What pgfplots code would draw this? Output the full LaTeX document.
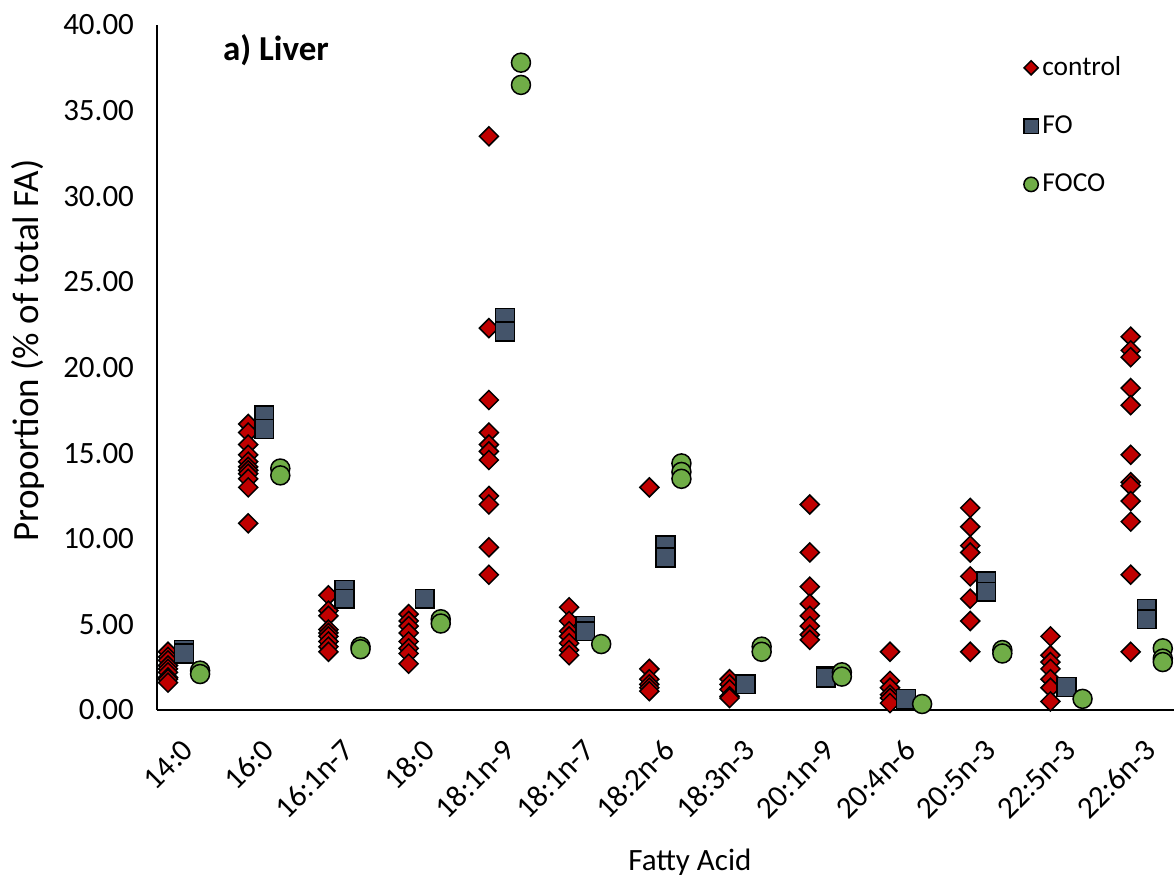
\documentclass[border=0pt]{standalone}
\usepackage{fontspec}
\setmainfont{Carlito}
\usepackage{pgfplots}
\pgfplotsset{compat=1.18}
\definecolor{ctrl}{HTML}{C00000}
\definecolor{fo}{HTML}{44546A}
\definecolor{foco}{HTML}{70AD47}

\begin{document}
\begin{tikzpicture}
\begin{axis}[scale only axis,width=508.5pt,height=342.5pt,
 xmin=0.663,xmax=13.34,ymin=0,ymax=40,clip=false,
 axis x line*=bottom,axis y line*=left,axis line style={line width=1.4pt,-},
 major tick length=0pt,
 xtick={1,...,13},
 xticklabels={14:0,16:0,16:1n-7,18:0,18:1n-9,18:1n-7,18:2n-6,18:3n-3,20:1n-9,20:4n-6,20:5n-3,22:5n-3,22:6n-3},
 ytick={0,5,...,40},
 tick label style={font=\fontsize{15.5}{18}\selectfont},
 xticklabel style={xshift=4.5pt,yshift=-15pt,rotate=45,anchor=east},
 yticklabel style={xshift=-8pt,/pgf/number format/fixed,/pgf/number format/fixed zerofill,
   /pgf/number format/precision=2,/pgf/number format/assume math mode=true},
 ylabel={Proportion (\% of total FA)},
 ylabel style={at={(axis description cs:-0.127,0.525)},anchor=center,font=\fontsize{18.5}{21}\selectfont},
 xlabel={Fatty Acid},
 xlabel style={at={(axis description cs:0.524,-0.222)},anchor=center,font=\fontsize{15.5}{18}\selectfont},
 legend image code/.code={\draw[mark repeat=2,mark phase=2,#1] plot coordinates {(0cm,0cm) (0.2cm,0cm) (0.4cm,0cm)};},
 legend style={at={(axis description cs:0.852,0.96)},anchor=north west,draw=none,fill=none,
   font=\fontsize{13.7}{15}\selectfont,row sep=14.6pt,inner sep=0pt},
 legend cell align=left,
]
% control
\addplot[only marks,mark=square*,mark size=3.36pt,
  mark options={rotate=45,fill=ctrl,draw=black,line width=0.75pt},
  legend image post style={mark size=2.5pt}] coordinates {
 (0.8,3.4) (0.8,3.1) (0.8,2.9) (0.8,2.6) (0.8,2.4) (0.8,2.2) (0.8,1.9) (0.8,1.8) (0.8,1.6)
 (1.8,16.7) (1.8,16.2) (1.8,15.5) (1.8,14.9) (1.8,14.5) (1.8,14.2) (1.8,14.0) (1.8,13.8) (1.8,13.5) (1.8,13.0) (1.8,10.9)
 (2.8,6.7) (2.8,5.8) (2.8,5.5) (2.8,4.7) (2.8,4.5) (2.8,4.3) (2.8,4.0) (2.8,3.7) (2.8,3.4)
 (3.8,5.6) (3.8,5.2) (3.8,4.9) (3.8,4.5) (3.8,4.0) (3.8,3.6) (3.8,3.3) (3.8,2.7)
 (4.8,33.5) (4.8,22.3) (4.8,18.1) (4.8,16.2) (4.8,15.5) (4.8,15.1) (4.8,14.6) (4.8,12.5) (4.8,12.0) (4.8,9.5) (4.8,7.9)
 (5.8,6.0) (5.8,5.2) (5.8,4.6) (5.8,4.3) (5.8,3.9) (5.8,3.5) (5.8,3.2)
 (6.8,13.0) (6.8,2.4) (6.8,1.8) (6.8,1.5) (6.8,1.3) (6.8,1.1)
 (7.8,1.8) (7.8,1.5) (7.8,1.2) (7.8,0.8) (7.8,0.7)
 (8.8,12.0) (8.8,9.2) (8.8,7.2) (8.8,6.2) (8.8,5.5) (8.8,4.9) (8.8,4.4) (8.8,4.1)
 (9.8,3.4) (9.8,1.7) (9.8,1.3) (9.8,0.9) (9.8,0.7) (9.8,0.4)
 (10.8,11.8) (10.8,10.7) (10.8,9.6) (10.8,9.2) (10.8,7.8) (10.8,6.5) (10.8,5.2) (10.8,3.4)
 (11.8,4.3) (11.8,3.2) (11.8,2.8) (11.8,2.4) (11.8,1.8) (11.8,1.3) (11.8,0.5)
 (12.8,21.8) (12.8,21.0) (12.8,20.6) (12.8,18.8) (12.8,17.8) (12.8,14.9) (12.8,13.3) (12.8,13.1) (12.8,12.2) (12.8,11.0) (12.8,7.9) (12.8,3.4)
};
\addlegendentry{control}
% FO
\addplot[only marks,mark=square*,mark size=4.7pt,
  mark options={fill=fo,draw=black,line width=0.75pt},
  legend image post style={mark size=3.6pt}] coordinates {
 (1,3.5) (1,3.3) (2,17.2) (2,16.4) (3,7.0) (3,6.5) (4,6.5) (5,22.9) (5,22.1)
 (6,4.9) (6,4.6) (7,9.6) (7,8.9) (8,1.5) (9,2.0) (9,1.9) (10,0.65)
 (11,7.5) (11,6.9) (12,1.35) (13,5.9) (13,5.3)
};
\addlegendentry{FO}
% FOCO
\addplot[only marks,mark=*,mark size=4.75pt,
  mark options={fill=foco,draw=black,line width=0.75pt},
  legend image post style={mark size=3.6pt}] coordinates {
 (1.2,2.3) (1.2,2.1) (2.2,14.1) (2.2,13.7) (3.2,3.7) (3.2,3.55) (4.2,5.3) (4.2,5.05)
 (5.2,37.8) (5.2,36.5) (6.2,3.85) (7.2,14.4) (7.2,13.9) (7.2,13.5) (8.2,3.7) (8.2,3.4)
 (9.2,2.2) (9.2,1.95) (10.2,0.35) (11.2,3.5) (11.2,3.3) (12.2,0.65)
 (13.2,3.6) (13.2,3.0) (13.2,2.8)
};
\addlegendentry{FOCO}
\node[anchor=west,font=\bfseries\fontsize{17.5}{20}\selectfont] at (axis description cs:0.058,0.963) {a) Liver};
\end{axis}
\path (-78.5pt,-89pt) rectangle (509.5pt,355pt);
\end{tikzpicture}
\end{document}
